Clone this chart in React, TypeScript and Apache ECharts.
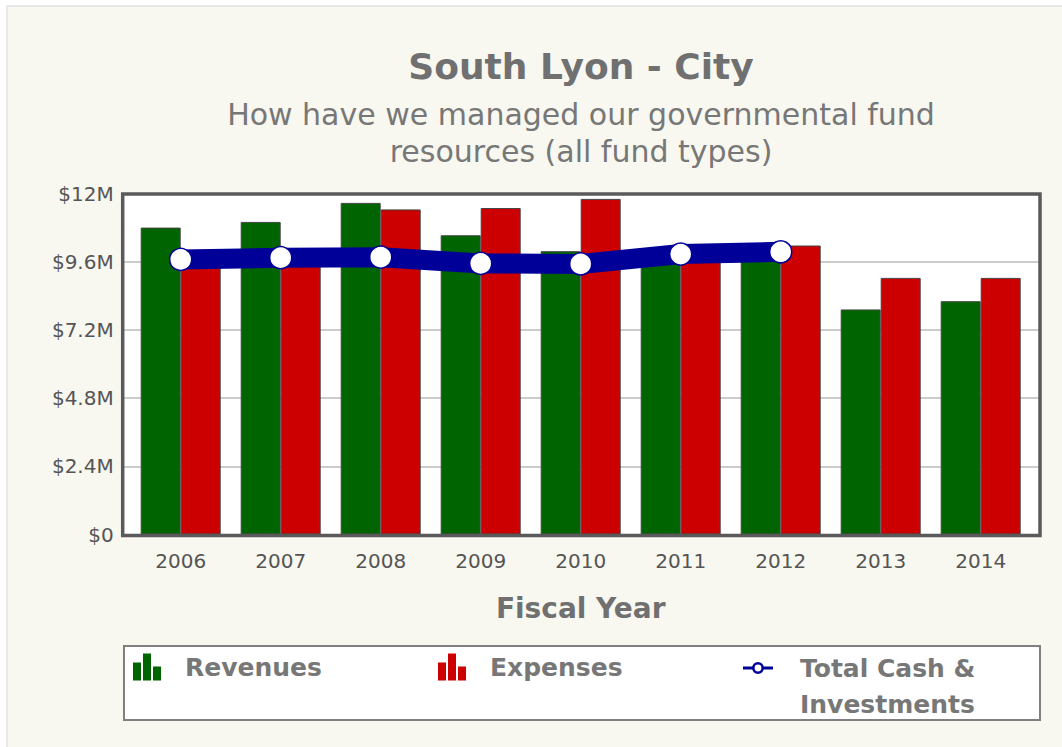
import React, { useEffect, useRef } from "react";
import * as echarts from "echarts";

const years = ["2006", "2007", "2008", "2009", "2010", "2011", "2012", "2013", "2014"];
const revenues = [10.8, 11.0, 11.67, 10.53, 9.97, 9.7, 9.8, 7.92, 8.21];
const expenses = [9.5, 9.5, 11.44, 11.49, 11.81, 9.6, 10.17, 9.03, 9.03];
const totalCash = [9.68, 9.74, 9.76, 9.54, 9.52, 9.87, 9.95, null, null];
const yMin = 0;
const yMax = 12;
const yInterval = 2.4;

const TITLE = "South Lyon - City";
const SUBTITLE = "How have we managed our governmental fund\nresources (all fund types)";
const X_NAME = "Fiscal Year";

const FONT = "DejaVu Sans";
const barIcon = "path://M0,9H8V27H0Z M10,0H18V27H10Z M20,13H28V27H20Z";
const lineIcon =
  "path://M0,5.5H9.5V8.5H0Z M20.5,5.5H30V8.5H20.5Z M15,1A6,6 0 1,1 15,13A6,6 0 1,1 15,1Z M15,3.6A3.4,3.4 0 1,0 15,10.4A3.4,3.4 0 1,0 15,3.6Z";

export default function App() {
  const ref = useRef<HTMLDivElement>(null);
  useEffect(() => {
    document.body.style.margin = "0";
    if (!ref.current) return;
    const chart = echarts.init(ref.current, undefined, { renderer: "svg" });
    const legendText = {
      fontFamily: FONT,
      fontSize: 25,
      fontWeight: "bold" as const,
      color: "#777777",
      lineHeight: 30,
      padding: [0, 0, 0, 19],
    };
    chart.setOption({
      animation: false,
      backgroundColor: "#ffffff",
      title: {
        text: TITLE,
        subtext: SUBTITLE,
        left: 581,
        top: 48,
        textAlign: "center",
        padding: 0,
        itemGap: 12,
        textStyle: { fontFamily: FONT, fontSize: 36, fontWeight: "bold", color: "#707070", lineHeight: 36 },
        subtextStyle: { fontFamily: FONT, fontSize: 30, color: "#777777", lineHeight: 37 },
      },
      graphic: [
        {
          type: "rect",
          z: -100,
          shape: { x: 7, y: 6, width: 1060, height: 745 },
          style: { fill: "#F8F7F0", stroke: "#e2e2e2", lineWidth: 1.5 },
        },
        {
          type: "rect",
          z: -5,
          shape: { x: 124, y: 646, width: 916, height: 74 },
          style: { fill: "#ffffff", stroke: "#808080", lineWidth: 2 },
        },
        {
          type: "rect",
          z: 50,
          shape: { x: 122.7, y: 194, width: 917.3, height: 341.5 },
          style: { fill: "none", stroke: "#5a5a5a", lineWidth: 3.5 },
        },
      ],
      legend: [
        {
          data: [{ name: "Revenues", icon: barIcon }],
          left: 133,
          top: 652,
          padding: 0,
          itemWidth: 28,
          itemHeight: 27,
          selectedMode: false,
          itemStyle: { borderWidth: 0 },
          textStyle: legendText,
        },
        {
          data: [{ name: "Expenses", icon: barIcon }],
          left: 438,
          top: 652,
          padding: 0,
          itemWidth: 28,
          itemHeight: 27,
          selectedMode: false,
          itemStyle: { borderWidth: 0 },
          textStyle: legendText,
        },
        {
          data: [{ name: "Total Cash & Investments", icon: lineIcon }],
          left: 743,
          top: 614,
          padding: 0,
          itemWidth: 30,
          itemHeight: 14,
          selectedMode: false,
          itemStyle: { color: "#000099", borderWidth: 0 },
          formatter: () => "\nTotal Cash &\nInvestments",
          textStyle: { ...legendText, lineHeight: 36, padding: [0, 0, 0, 22] },
        },
      ],
      grid: [
        { left: 130.7, right: 31.3, top: 193.5, bottom: 212.5 },
        {
          left: 122.7,
          right: 22,
          top: 193.5,
          bottom: 212.5,
          show: true,
          backgroundColor: "#ffffff",
          borderWidth: 0,
        },
      ],
      xAxis: [
        {
          type: "category",
          gridIndex: 0,
          data: years,
          axisLine: { show: false },
          axisTick: { show: false },
          axisLabel: { fontFamily: FONT, fontSize: 20, color: "#555555", margin: 16 },
          name: X_NAME,
          nameLocation: "middle",
          nameGap: 60,
          nameTextStyle: { fontFamily: FONT, fontSize: 28, fontWeight: "bold", color: "#707070" },
        },
        { type: "value", gridIndex: 1, show: false, min: 0, max: 1 },
      ],
      yAxis: [
        {
          type: "value",
          gridIndex: 0,
          min: yMin,
          max: yMax,
          interval: yInterval,
          axisLabel: { show: false },
          axisLine: { show: false },
          axisTick: { show: false },
          splitLine: { show: false },
        },
        {
          type: "value",
          gridIndex: 1,
          min: yMin,
          max: yMax,
          interval: yInterval,
          axisLine: { show: false },
          axisTick: { show: false },
          axisLabel: {
            fontFamily: FONT,
            fontSize: 20,
            color: "#555555",
            margin: 9,
            formatter: (v: number) => (v === 0 ? "$0" : "$" + +v.toFixed(1) + "M"),
          },
          splitLine: { show: true, lineStyle: { color: "#cccccc", width: 2 } },
        },
      ],
      series: [
        {
          name: "Revenues",
          type: "bar",
          xAxisIndex: 0,
          yAxisIndex: 0,
          data: revenues,
          barWidth: 40,
          barGap: "0%",
          itemStyle: { color: "#006400", borderColor: "#444444", borderWidth: 1 },
        },
        {
          name: "Expenses",
          type: "bar",
          xAxisIndex: 0,
          yAxisIndex: 0,
          data: expenses,
          barWidth: 40,
          barGap: "0%",
          itemStyle: { color: "#cc0000", borderColor: "#444444", borderWidth: 1 },
        },
        {
          name: "Total Cash & Investments",
          type: "line",
          xAxisIndex: 0,
          yAxisIndex: 0,
          data: totalCash,
          z: 5,
          symbol: "circle",
          symbolSize: 22,
          showAllSymbol: true,
          lineStyle: { color: "#000099", width: 20 },
          itemStyle: { color: "#ffffff", borderColor: "#000099", borderWidth: 1.5 },
        },
      ],
    });
    return () => chart.dispose();
  }, []);
  return <div ref={ref} style={{ width: 1062, height: 747 }} />;
}
